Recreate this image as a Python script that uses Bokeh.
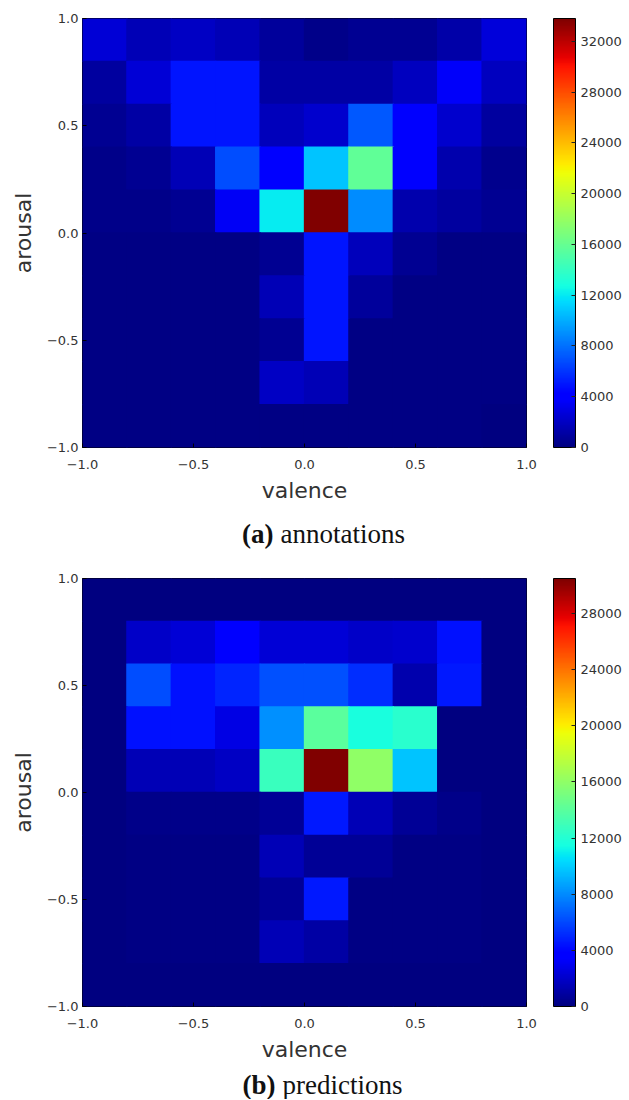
import numpy as np
from bokeh.plotting import figure
from bokeh.models import ColumnDataSource, LinearColorMapper, ColorBar, FixedTicker, Range1d
from bokeh.layouts import column
from bokeh.core.properties import value
from bokeh.embed import file_html
from bokeh.resources import INLINE

# ---------------- data ----------------
valence_bins = [-0.9, -0.7, -0.5, -0.3, -0.1, 0.1, 0.3, 0.5, 0.7, 0.9]
arousal_bins = [0.9, 0.7, 0.5, 0.3, 0.1, -0.1, -0.3, -0.5, -0.7, -0.9]   # rows, top to bottom

annotations = [
    [2600, 1600, 2100, 1600, 800, 350, 650, 650, 1300, 2700],
    [1000, 2600, 5000, 5000, 1100, 1100, 1100, 1950, 3600, 1950],
    [650, 1100, 5000, 5000, 1800, 2300, 7200, 4300, 2300, 1000],
    [350, 650, 1600, 6800, 4300, 10800, 15800, 4300, 1450, 500],
    [350, 350, 650, 3500, 12100, 33800, 8900, 1450, 1000, 650],
    [200, 200, 200, 200, 650, 5000, 1800, 650, 200, 200],
    [200, 200, 200, 200, 1600, 5000, 800, 200, 200, 200],
    [200, 200, 200, 200, 650, 5000, 200, 200, 200, 200],
    [200, 200, 200, 200, 2100, 1600, 200, 200, 200, 200],
    [200, 200, 200, 200, 200, 200, 200, 200, 200, 0],
]

predictions = [
    [0, 0, 0, 0, 0, 0, 0, 0, 0, 0],
    [0, 2000, 2300, 3900, 2300, 2300, 2000, 2100, 4300, 0],
    [0, 6100, 4400, 4900, 6300, 6300, 5200, 1200, 4600, 0],
    [0, 4400, 4400, 2700, 8200, 14000, 11600, 12200, 0, 0],
    [0, 1500, 1500, 1800, 12800, 30500, 16000, 9700, 0, 0],
    [0, 300, 300, 300, 600, 4600, 1500, 600, 300, 0],
    [0, 200, 200, 200, 1500, 600, 600, 200, 200, 0],
    [0, 200, 200, 200, 600, 4600, 200, 200, 200, 0],
    [0, 200, 200, 200, 1500, 1000, 200, 200, 200, 0],
    [0, 0, 0, 0, 0, 0, 0, 0, 0, 0],
]

axis_ticks = [-1.0, -0.5, 0.0, 0.5, 1.0]
axis_tick_labels = ["\u22121.0", "\u22120.5", "0.0", "0.5", "1.0"]
cbar_ticks_a = [0, 4000, 8000, 12000, 16000, 20000, 24000, 28000, 32000]
cbar_ticks_b = [0, 4000, 8000, 12000, 16000, 20000, 24000, 28000]
cbar_max_a = 33800
cbar_max_b = 30500
caption_tags = ["(a)", "(b)"]
caption_words = ["annotations", "predictions"]


# ---------------- jet colormap ----------------
def jet_palette(n=256):
    t = np.linspace(0, 1, n)
    r = np.interp(t, [0, 0.35, 0.66, 0.89, 1], [0, 0, 1, 1, 0.5])
    g = np.interp(t, [0, 0.125, 0.375, 0.64, 0.91, 1], [0, 0, 1, 1, 0, 0])
    b = np.interp(t, [0, 0.11, 0.34, 0.65, 1], [0.5, 1, 1, 0, 0])
    return ["#%02x%02x%02x" % (int(round(rr * 255)), int(round(gg * 255)), int(round(bb * 255)))
            for rr, gg, bb in zip(r, g, b)]


JET = jet_palette()
TEXT = "#333333"
LEFT, FRAME_W, RIGHT = 82, 444, 97


def panel(counts, vmax, cticks, top_border, bottom_border, frame_h):
    xs, ys, vs = [], [], []
    for i, a in enumerate(arousal_bins):
        for j, v in enumerate(valence_bins):
            xs.append(v)
            ys.append(a)
            vs.append(counts[i][j])
    src = ColumnDataSource(dict(x=xs, y=ys, count=vs))
    mapper = LinearColorMapper(palette=JET, low=0, high=vmax)

    p = figure(frame_width=FRAME_W, frame_height=frame_h,
               x_range=Range1d(-1, 1), y_range=Range1d(-1, 1),
               output_backend="svg", toolbar_location=None,
               min_border_left=LEFT, min_border_right=RIGHT,
               min_border_top=top_border, min_border_bottom=bottom_border)
    p.grid.visible = False
    p.background_fill_color = "#000080"
    p.border_fill_color = "white"
    p.outline_line_color = "black"
    p.outline_line_width = 1

    p.rect(x="x", y="y", width=0.206, height=0.206, source=src,
           fill_color={"field": "count", "transform": mapper}, line_color=None)

    for ax in (p.xaxis[0], p.yaxis[0]):
        ax.ticker = FixedTicker(ticks=axis_ticks)
        ax.major_label_overrides = {t: l for t, l in zip(axis_ticks, axis_tick_labels)}
        ax.major_label_text_font = "DejaVu Sans"
        ax.major_label_text_font_size = "13px"
        ax.major_label_text_color = TEXT
        ax.axis_label_text_font = "DejaVu Sans"
        ax.axis_label_text_font_size = "22px"
        ax.axis_label_text_font_style = "normal"
        ax.axis_label_text_color = TEXT
        ax.axis_line_color = None
        ax.major_tick_in = 4
        ax.major_tick_out = 0
        ax.minor_tick_line_color = None
    p.xaxis.axis_label = "valence"
    p.yaxis.axis_label = "arousal"
    p.xaxis.major_label_standoff = 12
    p.xaxis.axis_label_standoff = 6
    p.yaxis.major_label_standoff = 4
    p.yaxis.axis_label_standoff = 8

    cb = ColorBar(color_mapper=mapper, ticker=FixedTicker(ticks=cticks),
                  width=22, height=frame_h, padding=0, margin=0,
                  location=(27, 0),
                  bar_line_color="black", bar_line_width=1,
                  major_tick_in=4, major_tick_out=0,
                  major_tick_line_color="#222222",
                  minor_tick_line_color=None,
                  label_standoff=5,
                  major_label_text_font="DejaVu Sans",
                  major_label_text_font_size="13px",
                  major_label_text_color=TEXT,
                  border_line_color=None, background_fill_color="white",
                  background_fill_alpha=0)
    p.add_layout(cb, "right")
    return p


def caption(idx, h, baseline_y, tag_right, word_left):
    c = figure(frame_width=FRAME_W, frame_height=h,
               x_range=Range1d(0, FRAME_W), y_range=Range1d(0, h),
               output_backend="svg", toolbar_location=None,
               min_border_left=LEFT, min_border_right=RIGHT, min_border_top=0, min_border_bottom=0)
    c.axis.visible = False
    c.grid.visible = False
    c.outline_line_color = None
    c.text(x=[tag_right], y=[baseline_y], text=[caption_tags[idx]],
           text_align="right", text_baseline="alphabetic",
           text_font=value("Liberation Serif"), text_font_style="bold",
           text_font_size="27px", text_color="#111111")
    c.text(x=[word_left], y=[baseline_y], text=[caption_words[idx]],
           text_align="left", text_baseline="alphabetic",
           text_font=value("Liberation Serif"), text_font_style="normal",
           text_font_size="27px", text_color="#111111")
    return c


p1 = panel(annotations, cbar_max_a, cbar_ticks_a, top_border=18, bottom_border=62, frame_h=429)
c1 = caption(0, 46, 22, 191, 198)
p2 = panel(predictions, cbar_max_b, cbar_ticks_b, top_border=23, bottom_border=62, frame_h=428)
c2 = caption(1, 31, 15, 193, 200)

layout = column(p1, c1, p2, c2, spacing=0)
open("out.html", "w").write(file_html(layout, INLINE))
